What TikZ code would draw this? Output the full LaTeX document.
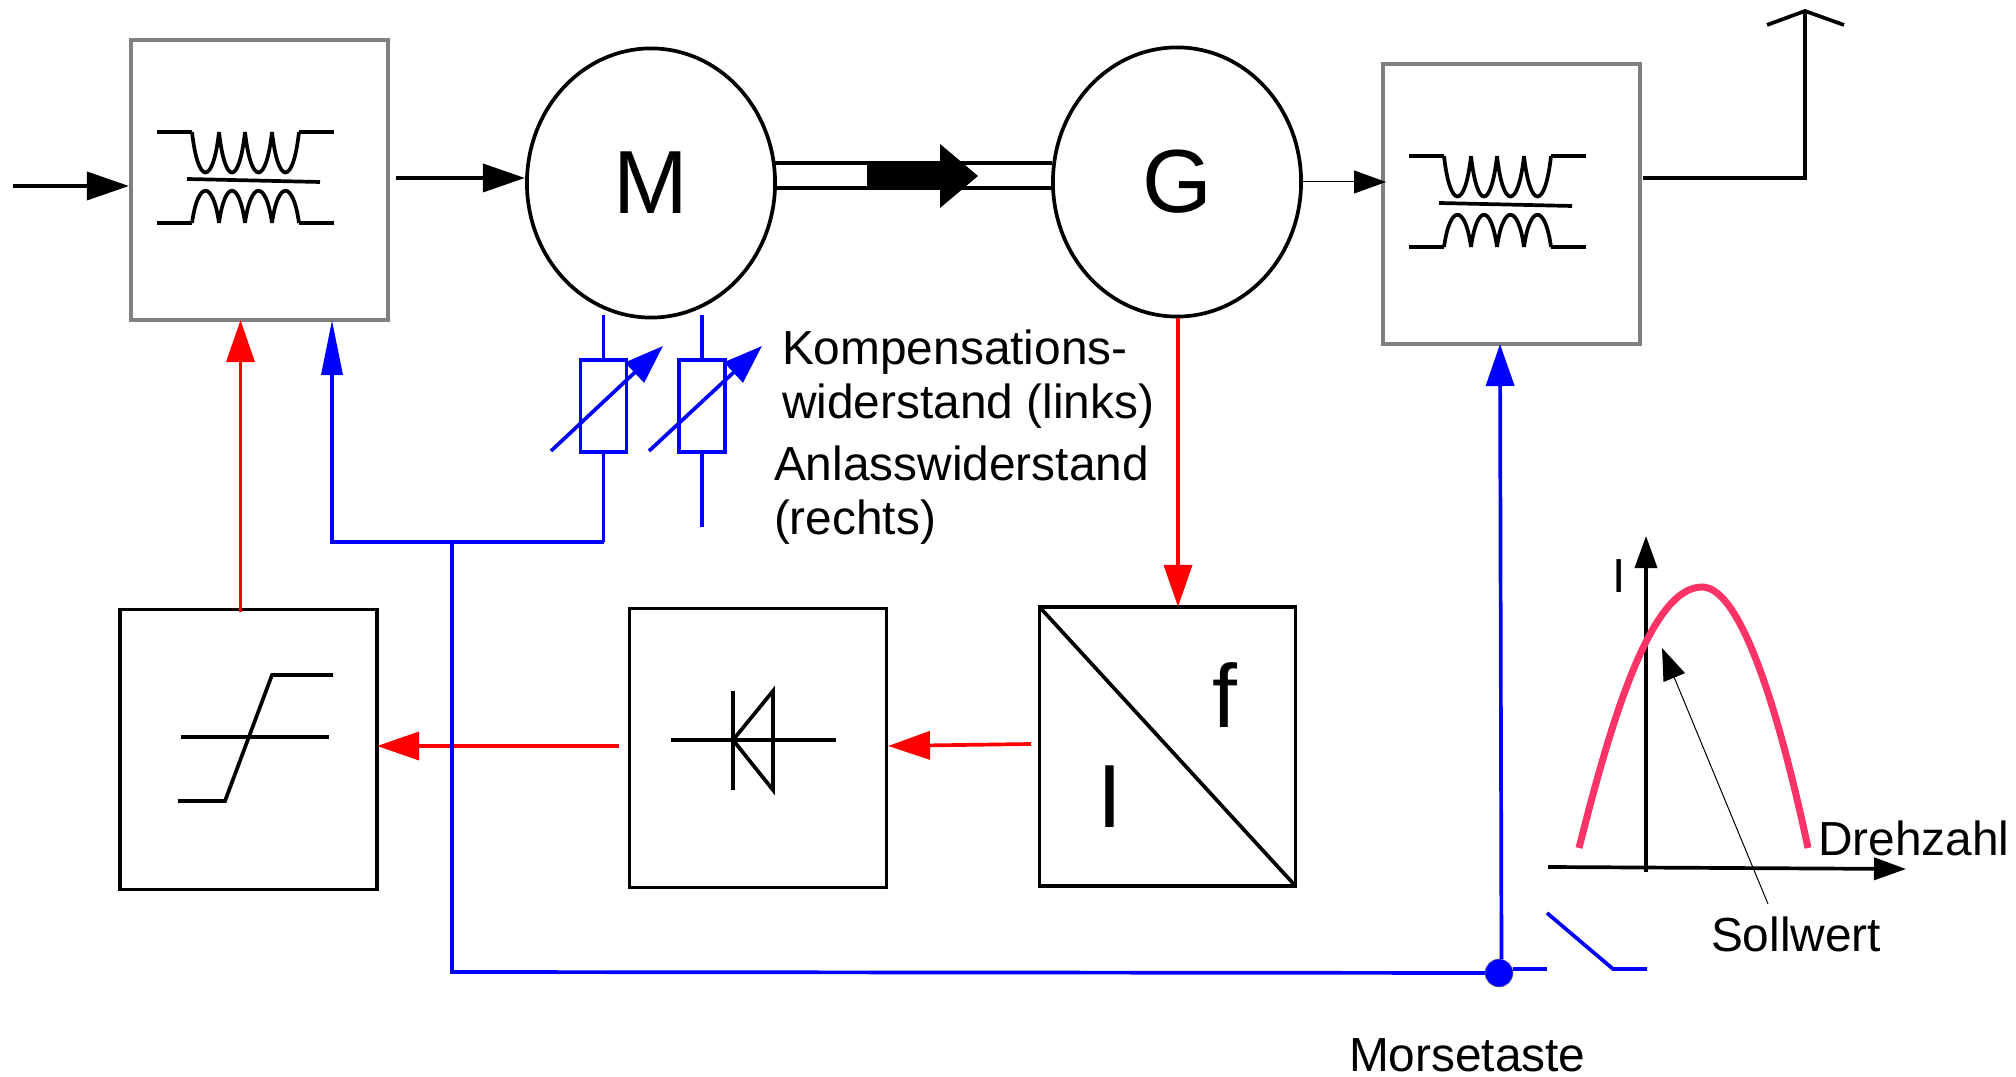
\documentclass[tikz,border=0pt]{standalone}
\usepackage{fontspec}
\setmainfont{Liberation Sans}
\usetikzlibrary{arrows.meta,shapes.geometric}
\definecolor{kurve}{HTML}{FF3366}
\definecolor{rahmen}{HTML}{808080}
\tikzset{
  base/.style={line width=0.037cm},
  block/.style={base, draw, rectangle, inner sep=0pt, outer sep=0pt, minimum width=2.57cm, minimum height=2.80cm},
  grayblock/.style={block, draw=rahmen},
  machine/.style={base, draw, ellipse, inner sep=0pt, outer sep=0pt, minimum width=2.48cm, minimum height=2.69cm, font=\fontsize{25.5}{28}\selectfont},
  label/.style={inner sep=0pt, outer sep=0pt, font=\fontsize{13.6}{15.2}\selectfont},
  biglabel/.style={inner sep=0pt, outer sep=0pt, font=\fontsize{25.5}{28}\selectfont},
  poti/.style={base, blue, draw, rectangle, inner sep=0pt, outer sep=0pt, minimum width=0.46cm, minimum height=0.92cm},
  arrow/.style={base, -{Triangle[length=0.42cm,width=0.28cm]}},
  smallarrow/.style={base, -{Triangle[length=0.32cm,width=0.22cm]}},
  thinarrow/.style={line width=0.01cm, -{Triangle[length=0.32cm,width=0.23cm]}},
  redarrow/.style={arrow, red},
  bluearrow/.style={base, blue, -{Triangle[length=0.55cm,width=0.21cm]}},
  potiarrow/.style={base, blue, -{Triangle[length=0.39cm,width=0.27cm]}},
  xfmr/.pic={
    \draw[base] (0, 0) -- (35, 0);
    \foreach \cx/\nx in {35/62, 62/88, 88/115, 115/142}
      \draw[base] (\cx, 0) .. controls (\cx+6, 54) and (\nx-6, 54) .. (\nx, 0);
    \draw[base] (142, 0) -- (177, 0);
    \draw[base] (30, 47) -- (163, 50);
    \draw[base] (0, 91) -- (35, 91);
    \foreach \cx/\nx in {35/62, 62/88, 88/115, 115/142}
      \draw[base] (\cx, 91) .. controls (\cx+6, 48) and (\nx-6, 48) .. (\nx, 91);
    \draw[base] (142, 91) -- (177, 91);
  }
}
\begin{document}
\begin{tikzpicture}[x=0.01cm, y=-0.01cm]
  \useasboundingbox (0, 0) rectangle (2016, 1077);

  \node (tr1) at (259.5, 180) [grayblock] {};
  \node (tr2) at (1511.5, 204) [grayblock] {};
  \pic at (157, 132) {xfmr};
  \pic at (1409, 156) {xfmr};

  \node (M) at (651, 183) [machine] {M};
  \node (G) at (1177, 182) [machine] {G};

  \node (lim) at (248.5, 749.5) [block] {};
  \node (dio) at (758, 748) [block, minimum height=2.79cm] {};
  \node (conv) at (1167.5, 746.5) [block, minimum width=2.56cm, minimum height=2.79cm] {};

  % input, motor and output
  \coordinate (in) at (13, 186);
  \draw (in) -- (tr1.west |- in) [arrow, shorten >=0.02cm];
  \coordinate (trout) at (396, 178);
  \draw (trout) -- (M.west |- trout) [arrow, shorten >=0.02cm];
  \coordinate (gin) at (1386, 182);
  \draw (G.east) -- (gin) [thinarrow];
  \coordinate (ant) at (1805, 178);
  \coordinate (anttop) at (1805, 11);
  \coordinate (antl) at (1767, 25);
  \coordinate (antr) at (1844, 25);
  \coordinate (trout2) at (1643, 178);
  \draw (trout2) -- (ant) -- (anttop) [base];
  \draw (antl) -- (anttop) -- (antr) [base];

  % shaft
  \coordinate (sh1) at (775, 163);
  \coordinate (sh2) at (1052, 163);
  \coordinate (sh3) at (775, 188);
  \coordinate (sh4) at (1052, 188);
  \draw (sh1) -- (sh2) [base];
  \draw (sh3) -- (sh4) [base];
  \fill (867, 162) -- (940, 162) -- (940, 144) -- (978, 176) -- (940, 208) -- (940, 190) -- (867, 190) -- cycle;

  % symbols
  \draw (178, 801) -- (225, 801) -- (272, 675) -- (333, 675) [base];
  \draw (181, 737) -- (329, 737) [base];
  \draw (671, 740) -- (836, 740) [base];
  \draw (733, 691) -- (733, 790) [base];
  \draw (733, 740) -- (773, 691) -- (773, 790) -- cycle [base];
  \draw (conv.north west) -- (conv.south east) [base];
  \node (f) at (1225, 695) [biglabel] {f};
  \node (I) at (1110, 797) [biglabel] {I};

  % red signal path
  \coordinate (Gout) at (1178, 318);
  \draw (Gout) -- (conv.north -| Gout) [redarrow];
  \coordinate (convout) at (1031, 744);
  \coordinate (dioin) at (888, 746);
  \draw (convout) -- (dioin) [redarrow];
  \coordinate (dioout) at (619, 746);
  \draw (dioout) -- (lim.east |- dioout) [redarrow];
  \coordinate (limout) at (240.5, 612);
  \draw (limout) -- (tr1.south -| limout) [redarrow];

  % resistors
  \node (R1) at (603.5, 406) [poti] {};
  \node (R2) at (702, 406) [poti] {};
  \coordinate (r1top) at (603.5, 315);
  \coordinate (r1bot) at (603.5, 542);
  \coordinate (r2top) at (702, 315);
  \coordinate (r2bot) at (702, 527);
  \draw (r1top) -- (R1.north) [base, blue];
  \draw (R1.south) -- (r1bot) [base, blue];
  \draw (r2top) -- (R2.north) [base, blue];
  \draw (R2.south) -- (r2bot) [base, blue];
  \coordinate (a1) at (551, 451);
  \coordinate (a1e) at (663, 346);
  \coordinate (a2) at (649, 451);
  \coordinate (a2e) at (762, 346);
  \draw (a1) -- (a1e) [potiarrow];
  \draw (a2) -- (a2e) [potiarrow];

  % blue control lines
  \coordinate (knick) at (332, 542);
  \coordinate (abzw) at (452, 542);
  \coordinate (unten) at (452, 972);
  \node (dot) at (1499, 973) [circle, fill=blue, draw=rahmen, line width=0.005cm, minimum size=0.28cm, inner sep=0pt] {};
  \draw (r1bot) -- (knick) -- (tr1.south -| knick) [bluearrow];
  \draw (abzw) -- (unten) -- (dot) [base, blue];
  \coordinate (tasteup) at (1500, 344);
  \draw (dot.80) -- (tasteup) [redarrow, blue];
  \coordinate (t4) at (1513, 969);
  \coordinate (t0) at (1547, 969);
  \coordinate (t1) at (1547, 913);
  \coordinate (t2) at (1613, 969);
  \coordinate (t3) at (1647, 969);
  \draw (t4) -- (t0) [base, blue];
  \draw (t1) -- (t2) -- (t3) [base, blue];

  % characteristic
  \coordinate (xa) at (1548, 867);
  \coordinate (xe) at (1906, 869);
  \coordinate (ya) at (1646, 872);
  \coordinate (ye) at (1646, 536);
  \draw (xa) -- (xe) [smallarrow];
  \draw (ya) -- (ye) [smallarrow];
  \draw (1579, 848) .. controls (1610, 725) and (1650, 587) .. (1702, 587) .. controls (1745, 587) and (1785, 740) .. (1808, 848) [line width=0.07cm, kurve];
  \coordinate (sw) at (1768, 904);
  \coordinate (swe) at (1662, 648);
  \draw (sw) -- (swe) [thinarrow];

  % labels
  \node (kom) at (782, 379) [label, anchor=west, align=left] {Kompensations-\\widerstand (links)};
  \node (anl) at (774, 495) [label, anchor=west, align=left] {Anlasswiderstand\\(rechts)};
  \node (ylab) at (1619, 576) [label] {I};
  \node (dreh) at (1818, 856) [label, anchor=base west] {Drehzahl};
  \node (soll) at (1711, 952) [label, anchor=base west] {Sollwert};
  \node (morse) at (1349, 1071) [label, anchor=base west] {Morsetaste};
\end{tikzpicture}
\end{document}
